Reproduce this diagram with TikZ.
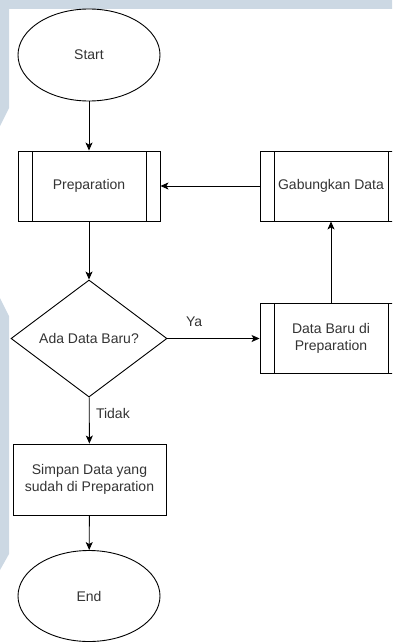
\documentclass[tikz,border=0pt]{standalone}
\usepackage{fontspec}
\setmainfont{Liberation Sans}
\usetikzlibrary{shapes.geometric,arrows.meta}

\definecolor{wmark}{RGB}{204,216,227}
\definecolor{txtgrey}{RGB}{51,51,51}

\tikzset{
    base/.style={draw, line width=0.9pt, text=txtgrey, align=center,
        font=\fontsize{14}{17.5}\selectfont},
    terminal/.style={base, ellipse, minimum width=142pt, minimum height=92pt},
    subproc/.style={base, rectangle, minimum width=142pt, minimum height=70pt,
        path picture={
            \draw[line width=0.9pt]
                ([xshift=14pt]path picture bounding box.north west) --
                ([xshift=14pt]path picture bounding box.south west)
                ([xshift=-14pt]path picture bounding box.north east) --
                ([xshift=-14pt]path picture bounding box.south east);
        }},
    procbox/.style={base, rectangle, minimum width=153pt, minimum height=71pt},
    decision/.style={base, diamond, inner sep=0pt, minimum width=156pt, minimum height=117pt},
    arr/.style={-{Stealth[length=8pt,width=7pt,inset=2pt]}, line width=0.9pt},
    lbl/.style={text=txtgrey, font=\fontsize{14}{17}\selectfont},
}

\begin{document}
\begin{tikzpicture}[x=1pt, y=-1pt]
        \useasboundingbox (0,0) rectangle (392,642);
        \clip (0,0) rectangle (392,642);

        % watermark in the background
        \fill[wmark] (0,0) -- (392,0) -- (392,9) -- (9,9) -- (9,108) -- (0,126) -- cycle;
        \fill[wmark] (0,298) -- (9,316) -- (9,554) -- (0,570) -- cycle;

        % left column
        \node[terminal] (start) at (89,55) {Start};
        \node[subproc] (prep) at (89,186) {Preparation};
        \node[decision] (dec) at (89,338.5) {Ada Data Baru?};
        \node[procbox] (simpan) at (89.5,479.5) {Simpan Data yang\\sudah di Preparation};
        \node[terminal, minimum height=91pt] (end) at (89,596) {End};

        % right column (cut by the page edge)
        \node[subproc] (gab) at (331,186) {Gabungkan Data};
        \node[subproc] (baru) at (331,338.5) {Data Baru di\\Preparation};

        % connectors
        \draw[arr] (start) -- (prep);
        \draw[arr] (prep) -- (dec);
        \draw[arr] (dec) -- node[lbl, pos=0.29, above=8pt] {Ya} (baru);
        \draw[arr] (baru) -- (gab);
        \draw[arr] (gab) -- (prep);
        \draw[arr] (dec) -- node[lbl, pos=0.34, right=3pt] {Tidak} (simpan);
        \draw[arr] (simpan) -- (end);
    \end{tikzpicture}
\end{document}
